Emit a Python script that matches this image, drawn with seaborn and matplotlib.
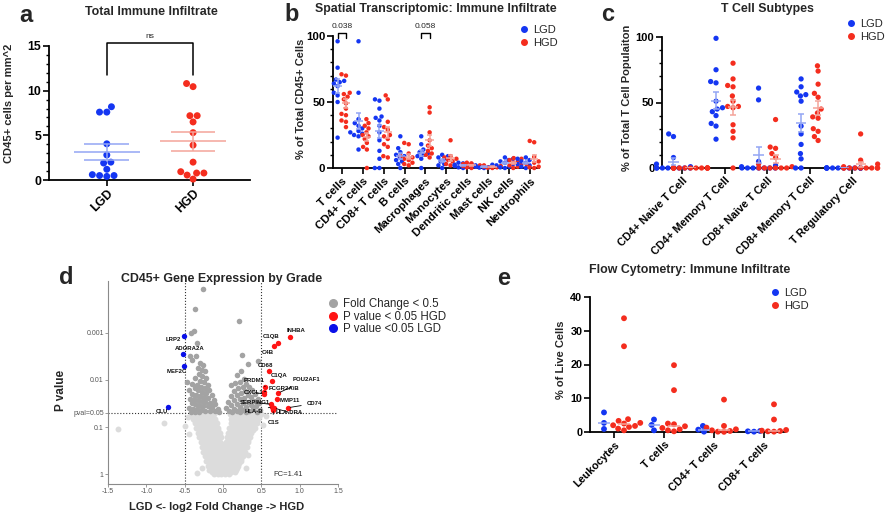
import numpy as np
import pandas as pd
import seaborn as sns
import matplotlib.pyplot as plt
from matplotlib.lines import Line2D
from matplotlib.ticker import MultipleLocator

W, H = 886, 515

BLUE = "#1436f2"
RED = "#f42d1e"
BLUE_L = "#93a6f4"
RED_L = "#f4a49a"
GREY_D = "#a3a3a3"
GREY_L = "#dcdcdc"

# ---------------- data ----------------
# a: total immune infiltrate (CD45+ cells per mm^2)
a_groups = ["LGD", "HGD"]
a_lgd = [8.2, 7.6, 7.6, 4.05, 2.8, 2.0, 1.9, 1.2, 0.6, 0.5, 0.5, 0.4]
a_hgd = [10.8, 10.45, 7.2, 7.2, 6.5, 5.3, 3.9, 2.0, 0.93, 0.78, 0.78, 0.55, 0.1]

# b: spatial transcriptomic immune infiltrate (% of CD45+)
b_cells = ["T cells", "CD4+ T cells", "CD8+ T cells", "B cells", "Macrophages",
           "Monocytes", "Dendritic cells", "Mast cells", "NK cells", "Neutrophils"]
b_lgd = [
    [96, 76, 67, 66, 65, 64, 62, 57, 55, 50, 23],
    [96, 57, 37, 34, 32, 30, 28, 27, 26, 25, 24, 14],
    [52, 51, 45, 39, 38, 36, 32, 27, 21, 13, 7, 0, 0],
    [24, 15, 12, 10, 9, 8, 6, 5, 3, 0],
    [24, 18, 14, 12, 11, 10, 9, 7, 0],
    [10, 9, 8, 7, 5, 3, 2, 0],
    [4, 3.5, 3, 2.5, 2, 1.5, 1, 0.5, 0],
    [2.5, 2, 1.5, 1, 0.5, 0.3, 0],
    [8, 7, 6, 5, 4, 3, 2, 1, 0.5, 0],
    [8, 7, 6, 5, 4, 3, 2, 1, 0],
]
b_hgd = [
    [71, 70, 57, 56, 54, 52, 49, 45, 41, 40, 36, 35, 31],
    [37, 34, 32, 30, 27, 25, 24, 22, 19, 16, 14, 0],
    [55, 52, 35, 31, 29, 25, 24, 22, 18, 16, 9, 8],
    [19, 18, 11, 9, 8, 7, 6, 4, 3, 2],
    [46, 42, 27, 21, 17, 15, 13, 11, 10, 8],
    [21, 9, 8, 7, 6, 5, 3, 2],
    [4, 3.5, 3, 2, 1.5, 1, 0.5, 0],
    [2, 1.5, 1, 0.5, 0.2, 0],
    [7.5, 7, 6, 5, 4, 3, 2, 1, 0],
    [20.5, 19.5, 8.5, 5, 4, 3, 1, 0.5, 0],
]
b_pvals = [("T cells", "0.038"), ("Macrophages", "0.058")]

# c: T cell subtypes (% of total T cells)
c_cells = ["CD4+ Naive T Cell", "CD4+ Memory T Cell", "CD8+ Naive T Cell",
           "CD8+ Memory T Cell", "T Regulatory Cell"]
c_lgd = [
    [26, 24, 8, 3, 1, 0, 0, 0, 0, 0, 0, 0, 0],
    [99, 75, 66, 65, 51, 46, 45, 43, 40, 34, 32, 22],
    [61, 52, 5, 2, 1, 0, 0, 0, 0, 0, 0, 0],
    [68, 62, 58, 56, 55, 51, 32, 26, 18, 11, 7, 0, 0],
    [0, 0, 0, 0, 0, 0, 0, 0, 0, 0, 0, 0, 0],
]
c_hgd = [
    [0, 0, 0, 0, 0, 0, 0, 0, 0, 0, 0, 0, 0],
    [80, 68, 63, 62, 55, 51, 47, 47, 46, 33, 28, 23, 0],
    [37, 16, 15, 11, 8, 3, 1, 0, 0, 0, 0, 0, 0],
    [78, 74, 64, 57, 54, 45, 42, 39, 38, 30, 28, 24, 21],
    [26, 6, 3, 1, 0, 0, 0, 0, 0, 0, 0, 0, 0],
]

# d: volcano plot (log2 fold change, -log10 p value)
light_rows = [
    (1.27, [-0.41, -0.36, -0.31, -0.27, -0.22, -0.17, -0.12, 0.09, 0.14, 0.19, 0.24, 0.29, 0.34, 0.39, 0.44, 0.49]),
    (1.22, [-0.39, -0.34, -0.29, -0.24, -0.19, -0.14, 0.12, 0.17, 0.22, 0.27, 0.32, 0.37, 0.42, 0.47]),
    (1.18, [-0.39, -0.34, -0.29, -0.24, -0.19, -0.14, -0.10, 0.11, 0.16, 0.21, 0.26, 0.31, 0.36, 0.41, 0.46]),
    (1.13, [-0.36, -0.31, -0.26, -0.21, -0.16, -0.11, 0.13, 0.18, 0.23, 0.28, 0.33, 0.38, 0.43]),
    (1.08, [-0.37, -0.32, -0.27, -0.22, -0.17, -0.12, -0.08, 0.10, 0.15, 0.20, 0.25, 0.30, 0.35, 0.40, 0.44]),
    (1.03, [-0.33, -0.28, -0.23, -0.18, -0.13, -0.09, 0.12, 0.17, 0.22, 0.27, 0.32, 0.37, 0.41]),
    (0.98, [-0.35, -0.30, -0.25, -0.20, -0.15, -0.10, -0.06, 0.08, 0.13, 0.18, 0.23, 0.28, 0.33, 0.38, 0.42]),
    (0.93, [-0.31, -0.26, -0.21, -0.16, -0.11, -0.07, 0.10, 0.15, 0.20, 0.25, 0.30, 0.35, 0.39]),
    (0.88, [-0.33, -0.28, -0.23, -0.18, -0.13, -0.08, -0.04, 0.07, 0.12, 0.17, 0.22, 0.27, 0.32, 0.37]),
    (0.83, [-0.29, -0.24, -0.19, -0.14, -0.09, -0.05, 0.09, 0.14, 0.19, 0.24, 0.29, 0.34]),
    (0.78, [-0.31, -0.26, -0.21, -0.16, -0.11, -0.06, -0.02, 0.05, 0.10, 0.15, 0.20, 0.25, 0.30, 0.35]),
    (0.73, [-0.27, -0.22, -0.17, -0.12, -0.07, 0.07, 0.12, 0.17, 0.22, 0.27, 0.32]),
    (0.68, [-0.29, -0.24, -0.19, -0.14, -0.09, -0.04, 0.04, 0.09, 0.14, 0.19, 0.24, 0.29, 0.33]),
    (0.63, [-0.25, -0.20, -0.15, -0.10, -0.05, 0.01, 0.06, 0.11, 0.16, 0.21, 0.26, 0.30]),
    (0.58, [-0.27, -0.22, -0.17, -0.12, -0.07, -0.02, 0.03, 0.08, 0.13, 0.18, 0.23, 0.27, 0.31]),
    (0.53, [-0.24, -0.19, -0.14, -0.09, -0.04, 0.01, 0.06, 0.11, 0.16, 0.21, 0.26]),
    (0.48, [-0.26, -0.21, -0.16, -0.11, -0.06, -0.01, 0.04, 0.09, 0.14, 0.19, 0.24, 0.29]),
    (0.43, [-0.22, -0.17, -0.12, -0.07, -0.02, 0.03, 0.08, 0.13, 0.18, 0.23, 0.27]),
    (0.38, [-0.24, -0.19, -0.14, -0.09, -0.04, 0.01, 0.06, 0.11, 0.16, 0.21, 0.26]),
    (0.33, [-0.20, -0.15, -0.10, -0.05, 0.00, 0.05, 0.10, 0.15, 0.20, 0.24]),
    (0.28, [-0.22, -0.17, -0.12, -0.07, -0.02, 0.03, 0.08, 0.13, 0.18, 0.23]),
    (0.23, [-0.18, -0.13, -0.08, -0.03, 0.02, 0.07, 0.12, 0.17, 0.21]),
    (0.18, [-0.20, -0.15, -0.10, -0.05, 0.00, 0.05, 0.10, 0.15, 0.20]),
    (0.13, [-0.16, -0.11, -0.06, -0.01, 0.04, 0.09, 0.14, 0.18]),
    (0.09, [-0.18, -0.13, -0.08, -0.03, 0.02, 0.07, 0.12, 0.17]),
    (0.04, [-0.14, -0.09, -0.04, 0.01, 0.06, 0.11, 0.15]),
    (0.00, [-0.12, -0.07, -0.02, 0.03, 0.08]),
]
light_extra_fc = [-1.37, -0.77, -0.46, -0.50, -0.34, -0.27, 0.30, 0.33, 0.56, -0.44, 0.52]
light_extra_nlp = [0.96, 1.08, 1.22, 1.02, 0.03, 0.12, 0.12, 0.40, 1.24, 0.85, 1.05]

dark_fc = [-0.26, -0.37, -0.375, -0.42, -0.34, -0.43, -0.35, -0.40,
           -0.30, -0.26, -0.33, -0.28, -0.24, -0.31, -0.27, -0.36, -0.22, -0.30, -0.25, -0.47,
           -0.40, -0.34, -0.20, -0.29, -0.24, -0.37, -0.44, -0.32, -0.18, -0.27, -0.22, -0.40,
           -0.35, -0.30, -0.15, -0.25, -0.19, -0.43, -0.38, -0.33, -0.28, -0.12, -0.23, -0.17,
           -0.41, -0.36, -0.31, -0.10, -0.26, -0.20, -0.14, -0.44, -0.39, -0.34, -0.07, -0.29,
           -0.23, -0.17, -0.11, -0.42, -0.37, -0.05, -0.31,
           0.21, 0.45, 0.25, 0.32, 0.24, 0.18, 0.22, 0.28, 0.30, 0.16, 0.11, 0.26, 0.34, 0.20,
           0.38, 0.14, 0.29, 0.24, 0.42, 0.33, 0.18, 0.10, 0.37, 0.28, 0.45, 0.22, 0.14, 0.40,
           0.32, 0.06, 0.26, 0.47, 0.18, 0.36, 0.10, 0.43, 0.30, 0.22, 0.04, 0.14, 0.39, 0.48,
           0.26, 0.34, 0.08, 0.18, 0.44, 0.30, 0.12, 0.22]
dark_nlp = [3.94, 3.50, 3.04, 3.00, 2.79, 2.51, 2.51, 2.42,
            2.36, 2.32, 2.25, 2.22, 2.18, 2.12, 2.08, 2.05, 2.03, 1.98, 1.95, 1.96,
            1.92, 1.90, 1.90, 1.86, 1.83, 1.82, 1.78, 1.78, 1.78, 1.74, 1.72, 1.70,
            1.69, 1.66, 1.68, 1.64, 1.62, 1.60, 1.60, 1.58, 1.56, 1.58, 1.54, 1.52,
            1.50, 1.49, 1.47, 1.48, 1.45, 1.44, 1.42, 1.40, 1.39, 1.38, 1.38, 1.36,
            1.35, 1.34, 1.33, 1.32, 1.32, 1.32, 1.31,
            3.26, 2.41, 2.52, 2.33, 2.18, 2.11, 1.96, 2.02, 1.92, 1.93, 1.89, 1.86, 1.84, 1.82,
            1.78, 1.77, 1.76, 1.72, 1.70, 1.69, 1.67, 1.65, 1.63, 1.62, 1.60, 1.59, 1.57, 1.55,
            1.54, 1.53, 1.51, 1.50, 1.49, 1.47, 1.46, 1.44, 1.43, 1.42, 1.41, 1.39, 1.38, 1.37,
            1.36, 1.35, 1.34, 1.33, 1.32, 1.31, 1.31, 1.31]

hgd_genes = ["INHBA", "C1QB", "C4B", "CD68", "C1QA", "PRDM1", "CXCL1", "FCGR2A/B",
             "POU2AF1", "MMP11", "CD74", "SERPING1", "HLA-B", "HLA-DRA", "C1S"]
hgd_fc = [0.87, 0.72, 0.66, 0.60, 0.64, 0.55, 0.53, 0.54, 0.72, 0.71, 0.85, 0.63, 0.64, 0.67, 0.655]
hgd_nlp = [2.92, 2.78, 2.71, 2.18, 1.98, 1.86, 1.70, 1.75, 1.72, 1.60, 1.41, 1.48, 1.43, 1.40, 1.37]
hgd_lab_x = [0.95, 0.63, 0.58, 0.55, 0.73, 0.40, 0.40, 0.80, 1.09, 0.87, 1.19, 0.42, 0.40, 0.87, 0.655]
hgd_lab_y = [3.04, 2.92, 2.58, 2.30, 2.09, 1.99, 1.74, 1.81, 2.00, 1.57, 1.50, 1.52, 1.33, 1.31, 1.10]
hgd_line = [False, False, False, False, False, True, True, True, True, False, True, True, True, True, True]

lgd_genes = ["LRP2", "ADORA2A", "MEF2C", "CLU"]
lgd_fc = [-0.513, -0.526, -0.51, -0.72]
lgd_nlp = [2.94, 2.55, 2.30, 1.43]
lgd_lab_x = [-0.65, -0.44, -0.60, -0.80]
lgd_lab_y = [2.85, 2.66, 2.18, 1.33]

# e: flow cytometry (% of live cells)
e_cells = ["Leukocytes", "T cells", "CD4+ T cells", "CD8+ T cells"]
e_lgd = [
    [5.8, 2.7, 0.9],
    [3.7, 2.1, 0.5],
    [1.8, 0.7, 0.1],
    [0.3, 0.2, 0.1],
]
e_hgd = [
    [33.7, 25.4, 3.8, 3.3, 2.7, 2.5, 2.0, 1.8, 1.5, 1.0, 0.5],
    [19.8, 12.4, 2.5, 2.3, 1.7, 1.2, 0.8, 0.5, 0.2],
    [9.6, 1.8, 1.3, 0.8, 0.5, 0.3, 0.1, 0.05],
    [8.2, 3.7, 0.6, 0.4, 0.3, 0.2, 0.1],
]

# ---------------- helpers ----------------
sns.set_theme(style="ticks")
plt.rcParams["font.family"] = ["Liberation Sans", "DejaVu Sans"]
plt.rcParams["axes.edgecolor"] = "black"
plt.rcParams["xtick.color"] = "black"
plt.rcParams["ytick.color"] = "black"

TITLE_FS = 8.9
fig = plt.figure(figsize=(W / 100, H / 100), dpi=100)


def px_axes(left, top, right, bottom):
    return fig.add_axes([left / W, 1 - bottom / H, (right - left) / W, (bottom - top) / H])


def ftext(x, y, s, **kw):
    return fig.text(x / W, 1 - y / H, s, **kw)


def long_form(cats, lgd, hgd):
    rows = []
    for c, l, h in zip(cats, lgd, hgd):
        rows += [(c, "LGD", v) for v in l]
        rows += [(c, "HGD", v) for v in h]
    return pd.DataFrame(rows, columns=["cell", "grade", "value"])


def mean_sem(ax, groups, off, w, cw, sem=True, center=np.mean):
    # groups: list of (position index, values, colour)
    for i, vals, col in groups:
        v = np.asarray(vals, dtype=float)
        m = center(v)
        x = i + off if col == RED_L else i - off
        ax.hlines(m, x - w, x + w, color=col, lw=1.1, zorder=4)
        if sem:
            s = v.std(ddof=1) / np.sqrt(len(v))
            ax.vlines(x, m - s, m + s, color=col, lw=1.1, zorder=4)
            ax.hlines([m - s, m + s], x - cw, x + cw, color=col, lw=1.1, zorder=4)


def prism(ax, fs, xfs=None):
    sns.despine(ax=ax)
    for s in ["left", "bottom"]:
        ax.spines[s].set_linewidth(1.3)
    ax.tick_params(axis="both", which="major", width=1.2, length=4, labelsize=fs, pad=1.5)
    if xfs:
        ax.tick_params(axis="x", labelsize=xfs)
    ax.tick_params(axis="y", which="minor", width=1.0, length=2.5)
    ax.set_xlabel("")
    ax.set_ylabel("")
    for t in ax.get_xticklabels() + ax.get_yticklabels():
        t.set_fontweight("bold")


def rot_labels(ax):
    for t in ax.get_xticklabels():
        t.set_rotation(45)
        t.set_ha("right")
        t.set_rotation_mode("anchor")


def grade_legend(ax, x, y, fs=8):
    handles = [Line2D([], [], ls="", marker="o", color=BLUE, markersize=4),
               Line2D([], [], ls="", marker="o", color=RED, markersize=4)]
    ax.legend(handles, ["LGD", "HGD"], loc="upper left", bbox_to_anchor=(x / W, 1 - y / H),
              bbox_transform=fig.transFigure, frameon=False, fontsize=fs,
              handlelength=0.6, handletextpad=0.5, labelspacing=0.25, borderpad=0, borderaxespad=0)


# ---------------- panel a ----------------
ax = px_axes(49, 46, 250, 180)
df_a = pd.DataFrame({"grade": ["LGD"] * len(a_lgd) + ["HGD"] * len(a_hgd),
                     "value": a_lgd + a_hgd})
sns.swarmplot(data=df_a, x="grade", y="value", hue="grade", order=a_groups,
              palette={"LGD": BLUE, "HGD": RED}, size=5, ax=ax, legend=False,
              clip_on=False, zorder=3, warn_thresh=1)
mean_sem(ax, [(0, a_lgd, BLUE_L)], 0, 0.38, 0.26)
mean_sem(ax, [(1, a_hgd, RED_L)], 0, 0.38, 0.26)
ax.set_xlim(-0.67, 1.66)
ax.set_ylim(0, 15)
ax.set_yticks([0, 5, 10, 15])
ax.yaxis.set_minor_locator(MultipleLocator(1))
prism(ax, 8.8)
rot_labels(ax)
ax.plot([0, 0, 1, 1], [11.75, 15.3, 15.3, 11.75], color="black", lw=1.1, clip_on=False)
ax.text(0.5, 15.7, "ns", ha="center", va="bottom", fontsize=6)
ftext(151, 12, "Total Immune Infiltrate", ha="center", va="center", fontsize=TITLE_FS, fontweight="bold")
ftext(9, 103, "CD45+ cells per mm^2", rotation=90, ha="center", va="center", fontsize=8, fontweight="bold")

# ---------------- panel b ----------------
ax = px_axes(333, 36, 539, 168)
df_b = long_form(b_cells, b_lgd, b_hgd)
sns.swarmplot(data=df_b, x="cell", y="value", hue="grade", order=b_cells, hue_order=["LGD", "HGD"],
              palette=[BLUE, RED], dodge=True, size=3.2, ax=ax, legend=False,
              clip_on=False, zorder=3, warn_thresh=1)
mean_sem(ax, [(i, v, BLUE_L) for i, v in enumerate(b_lgd)], 0.2, 0.2, 0.12)
mean_sem(ax, [(i, v, RED_L) for i, v in enumerate(b_hgd)], 0.2, 0.2, 0.12)
ax.set_xlim(-0.42, 9.43)
ax.set_ylim(0, 100)
ax.set_yticks([0, 50, 100])
ax.yaxis.set_minor_locator(MultipleLocator(10))
prism(ax, 8.2)
rot_labels(ax)
for cell, ptxt in b_pvals:
    i = b_cells.index(cell)
    ax.plot([i - 0.2, i - 0.2, i + 0.2, i + 0.2], [98.8, 102.3, 102.3, 98.8],
            color="black", lw=1.0, clip_on=False)
    ax.text(i, 104.5, ptxt, ha="center", va="bottom", fontsize=6)
grade_legend(ax, 521, 25)
ftext(436, 9, "Spatial Transcriptomic: Immune Infiltrate", ha="center", va="center",
      fontsize=TITLE_FS, fontweight="bold")
ftext(301, 99, "% of Total CD45+ Cells", rotation=90, ha="center", va="center",
      fontsize=8, fontweight="bold")

# ---------------- panel c ----------------
ax = px_axes(662, 37, 870, 168)
df_c = long_form(c_cells, c_lgd, c_hgd)
sns.swarmplot(data=df_c, x="cell", y="value", hue="grade", order=c_cells, hue_order=["LGD", "HGD"],
              palette=[BLUE, RED], dodge=True, size=3.8, ax=ax, legend=False,
              clip_on=False, zorder=3, warn_thresh=1)
mean_sem(ax, [(i, v, BLUE_L) for i, v in enumerate(c_lgd)], 0.2, 0.12, 0.07)
mean_sem(ax, [(i, v, RED_L) for i, v in enumerate(c_hgd)], 0.2, 0.12, 0.07)
ax.set_xlim(-0.47, 4.42)
ax.set_ylim(0, 100)
ax.set_yticks([0, 50, 100])
ax.yaxis.set_minor_locator(MultipleLocator(10))
prism(ax, 8.0, xfs=7.8)
rot_labels(ax)
grade_legend(ax, 848, 19)
ftext(767, 9, "T Cell Subtypes", ha="center", va="center", fontsize=TITLE_FS, fontweight="bold")
ftext(627, 98, "% of Total T Cell Populaiton", rotation=90, ha="center", va="center",
      fontsize=8, fontweight="bold")

# ---------------- panel d ----------------
ax = px_axes(108, 281, 338, 484)
light_fc = [x for _, xs in light_rows for x in xs] + light_extra_fc
light_nlp = [y for y, xs in light_rows for _ in xs] + light_extra_nlp
sns.scatterplot(x=light_fc, y=light_nlp, color=GREY_L, s=18, linewidth=0, ax=ax, zorder=2)
sns.scatterplot(x=dark_fc, y=dark_nlp, color=GREY_D, s=16, linewidth=0, ax=ax, zorder=2)
sns.scatterplot(x=hgd_fc, y=hgd_nlp, color="#ff1414", s=15, linewidth=0, ax=ax, zorder=4)
sns.scatterplot(x=lgd_fc, y=lgd_nlp, color="#0a10e8", s=15, linewidth=0, ax=ax, zorder=4)
ax.axvline(-0.5, ls=":", color="#333333", lw=0.8, zorder=1)
ax.axvline(0.5, ls=":", color="#333333", lw=0.8, zorder=1)
ax.axhline(1.301, ls=":", color="#333333", lw=0.8, zorder=1)
for names, fx, fy, lx, ly, lines in [
        (hgd_genes, hgd_fc, hgd_nlp, hgd_lab_x, hgd_lab_y, hgd_line),
        (lgd_genes, lgd_fc, lgd_nlp, lgd_lab_x, lgd_lab_y, [False] * len(lgd_genes))]:
    for n, px_, py_, tx, ty, ln in zip(names, fx, fy, lx, ly, lines):
        arrow = dict(arrowstyle="-", lw=0.6, color="black", shrinkA=1.5, shrinkB=1.5) if ln else None
        ax.annotate(n, xy=(px_, py_), xytext=(tx, ty), ha="center", va="center", fontsize=4.3,
                    fontweight="bold", color="#111111", arrowprops=arrow, zorder=5)
ax.text(0.85, 0.0, "FC=1.41", ha="center", va="center", fontsize=5.5, color="#333333")
ax.set_xlim(-1.5, 1.5)
ax.set_ylim(-0.21, 4.1)
ax.set_xticks([-1.5, -1.0, -0.5, 0.0, 0.5, 1.0, 1.5])
ax.set_xticklabels(["-1.5", "-1.0", "-0.5", "0.0", "0.5", "1.0", "1.5"])
ax.set_yticks([0, 1, 1.301, 2, 3])
ax.set_yticklabels(["1", "0.1", "pval=0.05", "0.01", "0.001"])
sns.despine(ax=ax)
for s in ["left", "bottom"]:
    ax.spines[s].set_color("#8a8a8a")
    ax.spines[s].set_linewidth(0.8)
ax.tick_params(axis="both", colors="#8a8a8a", labelcolor="#555555", labelsize=5, length=2, width=0.6, pad=1)
d_handles = [Line2D([], [], ls="", marker="o", color=c, markersize=5.5)
             for c in ["#a3a3a3", "#ff1414", "#0a10e8"]]
ax.legend(d_handles, ["Fold Change < 0.5", "P value < 0.05 HGD", "P value <0.05 LGD"],
          loc="upper left", bbox_to_anchor=(330 / W, 1 - 298 / H), bbox_transform=fig.transFigure,
          frameon=False, fontsize=8.3, handlelength=0.6, handletextpad=0.5, labelspacing=0.05,
          borderpad=0, borderaxespad=0)
ftext(222, 279, "CD45+ Gene Expression by Grade", ha="center", va="center", fontsize=TITLE_FS, fontweight="bold")
ftext(217, 507, "LGD <- log2 Fold Change -> HGD", ha="center", va="center", fontsize=8, fontweight="bold")
ftext(61, 390, "P value", rotation=90, ha="center", va="center", fontsize=8.5, fontweight="bold")

# ---------------- panel e ----------------
ax = px_axes(590, 297, 785, 432)
df_e = long_form(e_cells, e_lgd, e_hgd)
sns.swarmplot(data=df_e, x="cell", y="value", hue="grade", order=e_cells, hue_order=["LGD", "HGD"],
              palette=[BLUE, RED], dodge=True, size=4.2, ax=ax, legend=False,
              clip_on=False, zorder=3, warn_thresh=1)
mean_sem(ax, [(i, v, BLUE_L) for i, v in enumerate(e_lgd)], 0.2, 0.12, 0.07, sem=False, center=np.median)
mean_sem(ax, [(i, v, RED_L) for i, v in enumerate(e_hgd)], 0.2, 0.12, 0.07, sem=False, center=np.median)
ax.set_xlim(-0.48, 3.42)
ax.set_ylim(0, 40)
ax.set_yticks([0, 10, 20, 30, 40])
prism(ax, 7.8)
rot_labels(ax)
grade_legend(ax, 772, 288)
ftext(690, 270, "Flow Cytometry: Immune Infiltrate", ha="center", va="center", fontsize=TITLE_FS, fontweight="bold")
ftext(561, 360, "% of Live Cells", rotation=90, ha="center", va="center", fontsize=8, fontweight="bold")

# panel letters
for letter, x, y in [("a", 19, 22), ("b", 284, 21), ("c", 601, 21), ("d", 59, 284), ("e", 497, 285)]:
    ftext(x, y, letter, ha="left", va="baseline", fontsize=17, fontweight="bold")

fig.savefig("out.png", dpi=100)
